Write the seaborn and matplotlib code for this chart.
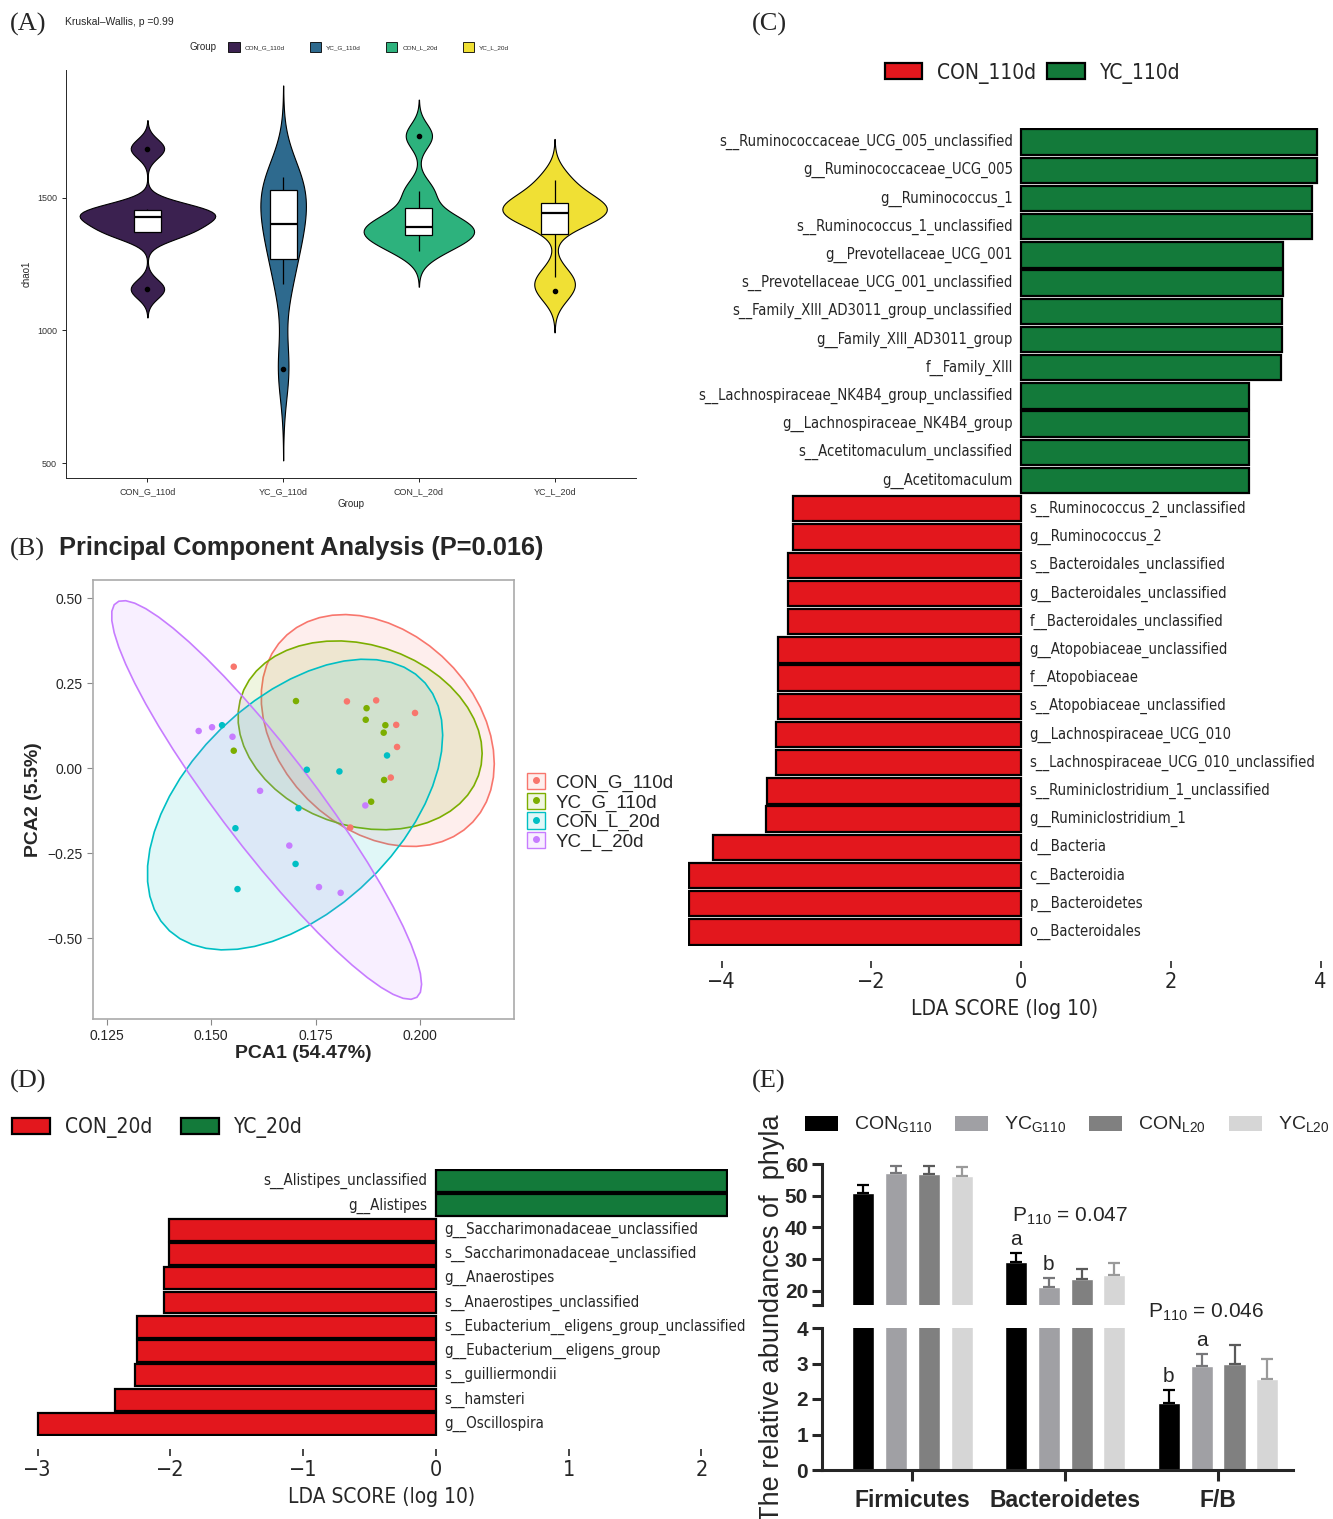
import numpy as np
import pandas as pd
import matplotlib as mpl
mpl.use('Agg')
import matplotlib.pyplot as plt
import seaborn as sns
from matplotlib.patches import Patch, Polygon, Rectangle
from matplotlib.lines import Line2D
from matplotlib.font_manager import FontProperties

W, H = 1333, 1519

# (A) chao1 richness per group
groups_a = ['CON_G_110d', 'YC_G_110d', 'CON_L_20d', 'YC_L_20d']
chao1_con_g = [1156, 1370, 1372, 1420, 1434, 1450, 1458, 1685]
chao1_yc_g = [856, 1175, 1300, 1380, 1420, 1525, 1540, 1577]
chao1_con_l = [1301, 1340, 1365, 1380, 1400, 1440, 1525, 1733]
chao1_yc_l = [1147, 1200, 1420, 1435, 1447, 1478, 1490, 1567]
colors_a = ['#3B2150', '#2E6A8E', '#2DB27D', '#F0E034']

# (B) PCA scores
pc1_con_g = [0.1554, 0.1825, 0.1895, 0.1988, 0.1943, 0.1945, 0.1930, 0.1833]
pc2_con_g = [0.298, 0.196, 0.199, 0.162, 0.127, 0.062, -0.028, -0.175]
pc1_yc_g = [0.1703, 0.1872, 0.1870, 0.1917, 0.1913, 0.1554, 0.1914, 0.1883]
pc2_yc_g = [0.197, 0.176, 0.142, 0.126, 0.104, 0.051, -0.035, -0.099]
pc1_con_l = [0.1526, 0.1921, 0.1729, 0.1807, 0.1709, 0.1558, 0.1702, 0.1563]
pc2_con_l = [0.126, 0.037, -0.005, -0.010, -0.118, -0.177, -0.282, -0.356]
pc1_yc_l = [0.1470, 0.1502, 0.1551, 0.1617, 0.1687, 0.1758, 0.1810, 0.1869]
pc2_yc_l = [0.109, 0.120, 0.092, -0.067, -0.228, -0.350, -0.367, -0.110]
colors_b = ['#F8766D', '#7CAE00', '#00BFC4', '#C77CFF']

# (C) LEfSe 110 d
taxa_c = ['s__Ruminococcaceae_UCG_005_unclassified', 'g__Ruminococcaceae_UCG_005',
          'g__Ruminococcus_1', 's__Ruminococcus_1_unclassified',
          'g__Prevotellaceae_UCG_001', 's__Prevotellaceae_UCG_001_unclassified',
          's__Family_XIII_AD3011_group_unclassified', 'g__Family_XIII_AD3011_group',
          'f__Family_XIII', 's__Lachnospiraceae_NK4B4_group_unclassified',
          'g__Lachnospiraceae_NK4B4_group', 's__Acetitomaculum_unclassified',
          'g__Acetitomaculum', 's__Ruminococcus_2_unclassified', 'g__Ruminococcus_2',
          's__Bacteroidales_unclassified', 'g__Bacteroidales_unclassified',
          'f__Bacteroidales_unclassified', 'g__Atopobiaceae_unclassified',
          'f__Atopobiaceae', 's__Atopobiaceae_unclassified',
          'g__Lachnospiraceae_UCG_010', 's__Lachnospiraceae_UCG_010_unclassified',
          's__Ruminiclostridium_1_unclassified', 'g__Ruminiclostridium_1',
          'd__Bacteria', 'c__Bacteroidia', 'p__Bacteroidetes', 'o__Bacteroidales']
lda_c = [3.95, 3.95, 3.89, 3.89, 3.50, 3.50, 3.48, 3.48, 3.47, 3.04, 3.04, 3.04, 3.04,
         -3.05, -3.05, -3.12, -3.12, -3.12, -3.25, -3.25, -3.25, -3.28, -3.28,
         -3.40, -3.41, -4.12, -4.44, -4.44, -4.44]
classes_c = ['CON_110d', 'YC_110d']

# (D) LEfSe 20 d
taxa_d = ['s__Alistipes_unclassified', 'g__Alistipes', 'g__Saccharimonadaceae_unclassified',
          's__Saccharimonadaceae_unclassified', 'g__Anaerostipes',
          's__Anaerostipes_unclassified', 's__Eubacterium__eligens_group_unclassified',
          'g__Eubacterium__eligens_group', 's__guilliermondii', 's__hamsteri',
          'g__Oscillospira']
lda_d = [2.19, 2.19, -2.01, -2.01, -2.05, -2.05, -2.25, -2.25, -2.27, -2.42, -3.00]
classes_d = ['CON_20d', 'YC_20d']
lefse_red, lefse_green = '#E3171D', '#137A3A'

# (E) phyla abundance
phyla = ['Firmicutes', 'Bacteroidetes', 'F/B']
groups_e = ['CON_G110', 'YC_G110', 'CON_L20', 'YC_L20']
firm_mean = [51.0, 57.2, 56.9, 56.2]
firm_err = [2.5, 2.2, 2.4, 2.8]
bact_mean = [29.0, 21.1, 23.6, 25.1]
bact_err = [2.8, 2.9, 3.4, 3.5]
fb_mean = [1.88, 2.92, 2.99, 2.57]
fb_err = [0.36, 0.34, 0.53, 0.56]
colors_e = ['#000000', '#a0a0a4', '#808080', '#d6d6d6']
err_colors_e = ['#000000', '#77777a', '#5a5a5a', '#9a9a9a']

sns.set_style('ticks')
plt.rcParams['font.family'] = ['Liberation Sans', 'DejaVu Sans']
lefse_font = dict(family='DejaVu Sans', stretch='condensed')


def px_axes(fig, l, t, r, b):
    return fig.add_axes([l / W, 1 - b / H, (r - l) / W, (b - t) / H])


def fig_text(fig, x, y, s, **kw):
    kw.setdefault('va', 'center')
    return fig.text(x / W, 1 - y / H, s, **kw)


def nrd0(kde):
    # R's default bandwidth, as used by ggplot's geom_violin
    x = np.asarray(kde.dataset).ravel()
    sd = x.std(ddof=1)
    iqr = np.subtract(*np.percentile(x, [75, 25]))
    bw = 0.9 * min(sd, iqr / 1.34) * len(x) ** -0.2
    return bw / sd


def plot_violins(fig):
    ax = px_axes(fig, 66, 70, 636, 478)
    vals = [chao1_con_g, chao1_yc_g, chao1_con_l, chao1_yc_l]
    df = pd.DataFrame({'Group': np.repeat(groups_a, [len(v) for v in vals]),
                       'chao1': np.concatenate(vals)})

    sns.violinplot(data=df, x='Group', y='chao1', hue='Group', order=groups_a,
                   hue_order=groups_a, palette=colors_a, saturation=1, inner=None,
                   linecolor='black', linewidth=0.8, bw_method=nrd0, cut=3,
                   density_norm='area', common_norm=True, width=1.0,
                   legend=False, ax=ax)
    sns.boxplot(data=df, x='Group', y='chao1', order=groups_a, color='white',
                saturation=1, width=0.2, linecolor='black', linewidth=0.9,
                showcaps=False, fliersize=3,
                flierprops=dict(marker='o', markerfacecolor='black',
                                markeredgecolor='black'),
                medianprops=dict(linewidth=1.6), ax=ax)

    ax.set_xlim(-0.6, 3.6)
    ax.set_ylim(444, 1981)
    ax.set_yticks([500, 1000, 1500])
    ax.tick_params(labelsize=6.5, length=3, width=0.6, colors='black',
                   labelcolor='#333333')
    ax.set_xlabel('Group', fontsize=7, labelpad=2)
    ax.set_ylabel('chao1', fontsize=7, labelpad=4)
    for side in ['top', 'right']:
        ax.spines[side].set_visible(False)
    for side in ['left', 'bottom']:
        ax.spines[side].set_linewidth(0.7)

    fig_text(fig, 10, 24, '(A)', family='Liberation Serif', fontsize=19)
    fig_text(fig, 65, 22, 'Kruskal\u2013Wallis, p =0.99', fontsize=7.5)
    fig_text(fig, 190, 47, 'Group', fontsize=7)
    handles = [Patch(facecolor=c, edgecolor='black', linewidth=0.6) for c in colors_a]
    fig.legend(handles, groups_a, ncol=4, loc='center left',
               bbox_to_anchor=(228 / W, 1 - 47 / H), fontsize=4.6, frameon=False,
               handlelength=1.8, handleheight=1.8, handletextpad=0.8,
               columnspacing=3.9, borderpad=0, borderaxespad=0)


def cov_trob(xy, nu=5, maxit=25, tol=0.01):
    # robust multivariate t estimate (MASS::cov.trob), used by stat_ellipse
    n, p = xy.shape
    loc = xy.mean(axis=0)
    w = np.ones(n)
    for _ in range(maxit):
        w0 = w
        X = xy - loc
        _, d, vt = np.linalg.svd(np.sqrt(w / w.sum())[:, None] * X,
                                 full_matrices=False)
        wX = X @ vt.T @ np.diag(1 / d)
        Q = (wX ** 2).sum(axis=1)
        w = (nu + p) / (nu + Q)
        loc = (w[:, None] * xy).sum(axis=0) / w.sum()
        if np.all(np.abs(w - w0) < tol):
            break
    cov = (np.sqrt(w)[:, None] * X).T @ (np.sqrt(w)[:, None] * X) / n
    return loc, cov


def add_ellipse(ax, x, y, color, f_quant=4.737):
    # 95% ellipse as drawn by ggplot's stat_ellipse (type 't', n = 8)
    xy = np.column_stack([x, y])
    center, shape = cov_trob(xy)
    chol = np.linalg.cholesky(shape).T
    radius = np.sqrt(2 * f_quant)
    theta = np.linspace(0, 2 * np.pi, 52)
    circle = np.column_stack([np.cos(theta), np.sin(theta)])
    pts = center + radius * circle @ chol
    ax.add_patch(Polygon(pts, closed=True,
                         facecolor=mpl.colors.to_rgba(color, 0.12),
                         edgecolor=color, linewidth=1.2, zorder=1))


def plot_pca(fig):
    ax = px_axes(fig, 93, 580, 514, 1019)
    pc1 = [pc1_con_g, pc1_yc_g, pc1_con_l, pc1_yc_l]
    pc2 = [pc2_con_g, pc2_yc_g, pc2_con_l, pc2_yc_l]
    df = pd.DataFrame({'PC1': np.concatenate(pc1), 'PC2': np.concatenate(pc2),
                       'Group': np.repeat(groups_a, [len(v) for v in pc1])})

    for x, y, c in zip(pc1, pc2, colors_b):
        add_ellipse(ax, x, y, c)
    sns.scatterplot(data=df, x='PC1', y='PC2', hue='Group', hue_order=groups_a,
                    palette=colors_b, s=22, linewidth=0, legend=False, zorder=3,
                    ax=ax)

    ax.set_xlim(0.1217, 0.2225)
    ax.set_ylim(-0.738, 0.553)
    ax.set_xticks([0.125, 0.15, 0.175, 0.2])
    ax.set_xticklabels(['0.125', '0.150', '0.175', '0.200'])
    ax.set_yticks([-0.5, -0.25, 0, 0.25, 0.5])
    ax.set_yticklabels(['\u22120.50', '\u22120.25', '0.00', '0.25', '0.50'])
    ax.tick_params(labelsize=10, length=4, width=0.8, color='#888888')
    for sp in ax.spines.values():
        sp.set_color('#aaaaaa')
        sp.set_linewidth(1.2)
    ax.set_xlabel('PCA1 (54.47%)', fontsize=14, fontweight='bold', labelpad=1)
    ax.set_ylabel('PCA2 (5.5%)', fontsize=14, fontweight='bold', labelpad=4)

    fig_text(fig, 10, 549, '(B)', family='Liberation Serif', fontsize=19)
    fig_text(fig, 59, 548, 'Principal Component Analysis (P=0.016)',
             fontsize=18.3, fontweight='bold')

    handles = [(Rectangle((0, 0), 1, 1, facecolor=mpl.colors.to_rgba(c, 0.12),
                          edgecolor=c, linewidth=1.0),
                Line2D([], [], marker='o', linestyle='none', color=c, markersize=4))
               for c in colors_b]
    fig.legend(handles, groups_a, loc='center left',
               bbox_to_anchor=(527 / W, 1 - 812 / H), fontsize=13.5, frameon=False,
               handlelength=0.95, handleheight=0.95, labelspacing=0.05,
               handletextpad=0.6, borderpad=0, borderaxespad=0)


def plot_lefse(fig, box, taxa, scores, classes, xlim, xticks, tick_pad,
               legend_anchor, legend_gap, label_size):
    ax = px_axes(fig, *box)
    ax.spines['bottom'].set_position(('outward', tick_pad))
    df = pd.DataFrame({'taxon': taxa, 'lda': scores,
                       'cls': [classes[1] if s > 0 else classes[0] for s in scores]})
    sns.barplot(data=df, x='lda', y='taxon', hue='cls', order=taxa,
                hue_order=classes, palette=[lefse_red, lefse_green], dodge=False,
                width=0.9, saturation=1, edgecolor='black', linewidth=1.6,
                legend=False, ax=ax)

    for i, (name, s) in enumerate(zip(taxa, scores)):
        ax.annotate(name, (0, i), xytext=(-6 if s > 0 else 6, 0),
                    textcoords='offset points', ha='right' if s > 0 else 'left',
                    va='center', fontsize=label_size, **lefse_font)

    ax.set_xlim(*xlim)
    ax.set_ylim(len(taxa) - 0.5, -0.5)
    ax.set_yticks([])
    ax.set_ylabel('')
    ax.set_xticks(xticks)
    ax.set_xticklabels(['\u2212%d' % -t if t < 0 else '%d' % t for t in xticks],
                       fontsize=15.5, **lefse_font)
    ax.tick_params(axis='x', length=5, width=1.2, pad=3)
    for side in ['left', 'right', 'top']:
        ax.spines[side].set_visible(False)
    ax.spines['bottom'].set_color('none')
    ax.set_xlabel('LDA SCORE (log 10)', fontsize=15, labelpad=5, **lefse_font)

    handles = [Patch(facecolor=lefse_red, edgecolor='black', linewidth=1.6),
               Patch(facecolor=lefse_green, edgecolor='black', linewidth=1.6)]
    fig.legend(handles, classes, ncol=2, loc='center left',
               bbox_to_anchor=legend_anchor, frameon=False,
               prop=FontProperties(size=15, **lefse_font), handlelength=1.8,
               handleheight=0.8, handletextpad=0.72, columnspacing=legend_gap,
               borderpad=0, borderaxespad=0)


def plot_phyla(fig):
    ax_top = px_axes(fig, 822, 1164, 1293, 1305)
    ax_bot = px_axes(fig, 822, 1328, 1293, 1470)
    means = [firm_mean, bact_mean, fb_mean]
    errs = [firm_err, bact_err, fb_err]
    df = pd.DataFrame({'phylum': np.repeat(phyla, len(groups_e)),
                       'group': groups_e * len(phyla),
                       'mean': np.concatenate(means), 'err': np.concatenate(errs)})
    df = df.set_index(['phylum', 'group'])

    for ax in (ax_top, ax_bot):
        sns.barplot(data=df.reset_index(), x='phylum', y='mean', hue='group',
                    order=phyla, hue_order=groups_e, palette=colors_e,
                    saturation=1, width=0.86, gap=0.33, errorbar=None,
                    legend=False, ax=ax)
        for cont, grp, ec in zip(ax.containers, groups_e, err_colors_e):
            for bar in cont:
                xc = bar.get_x() + bar.get_width() / 2
                phy = phyla[int(round(xc))]
                ax.errorbar(xc, bar.get_height(),
                            yerr=[[0], [df.loc[(phy, grp), 'err']]], fmt='none',
                            ecolor=ec, elinewidth=1.6, capsize=4, capthick=1.6)
        ax.set_xlim(-0.59, 2.49)
        ax.set_xlabel('')
        ax.set_ylabel('')
        ax.spines['right'].set_visible(False)
        ax.spines['top'].set_visible(False)
        ax.spines['left'].set_linewidth(2.2)
        ax.tick_params(axis='y', length=7, width=2.2, labelsize=15, pad=3)

    ax_top.set_ylim(15.5, 60)
    ax_top.set_yticks([20, 30, 40, 50, 60])
    ax_top.set_yticklabels(['20', '30', '40', '50', '60'], fontweight='bold')
    ax_top.set_yticks([15.5], minor=True)
    ax_top.tick_params(axis='y', which='minor', length=7, width=2.2)
    ax_top.spines['bottom'].set_visible(False)
    ax_top.set_xticks([])

    ax_bot.set_ylim(0, 4)
    ax_bot.set_yticks([0, 1, 2, 3, 4])
    ax_bot.set_yticklabels(['0', '1', '2', '3', '4'], fontweight='bold')
    ax_bot.spines['bottom'].set_linewidth(2.2)
    ax_bot.tick_params(axis='x', length=8, width=2.2, labelsize=16.5, pad=6)
    for lbl in ax_bot.get_xticklabels():
        lbl.set_fontweight('bold')

    # significance letters above the error bars
    letters = [(ax_top, 'Bacteroidetes', 'CON_G110', 'a'),
               (ax_top, 'Bacteroidetes', 'YC_G110', 'b'),
               (ax_bot, 'F/B', 'CON_G110', 'b'),
               (ax_bot, 'F/B', 'YC_G110', 'a')]
    for ax, phy, grp, s in letters:
        gi = groups_e.index(grp)
        bar = ax.containers[gi][0]
        for b in ax.containers[gi]:
            if phyla[int(round(b.get_x() + b.get_width() / 2))] == phy:
                bar = b
        top = df.loc[(phy, grp), 'mean'] + df.loc[(phy, grp), 'err']
        ax.annotate(s, (bar.get_x() + bar.get_width() / 2, top), xytext=(0, 3),
                    textcoords='offset points', ha='center', va='bottom',
                    fontsize=15)

    fig_text(fig, 1070, 1216, r'P$_{\mathregular{110}}$ = 0.047', fontsize=15,
             ha='center')
    fig_text(fig, 1206, 1312, r'P$_{\mathregular{110}}$ = 0.046', fontsize=15,
             ha='center')
    fig_text(fig, 772, 1318, 'The relative abundances of  phyla', fontsize=19.5,
             rotation=90, ha='center')
    fig_text(fig, 752, 1081, '(E)', family='Liberation Serif', fontsize=19)

    labels = [r'CON$_{\mathregular{G110}}$', r'YC$_{\mathregular{G110}}$',
              r'CON$_{\mathregular{L20}}$', r'YC$_{\mathregular{L20}}$']
    handles = [Patch(facecolor=c, edgecolor='none') for c in colors_e]
    fig.legend(handles, labels, ncol=4, loc='center left',
               bbox_to_anchor=(805 / W, 1 - 1125 / H), fontsize=14, frameon=False,
               handlelength=1.7, handleheight=0.8, handletextpad=0.8,
               columnspacing=1.2, borderpad=0, borderaxespad=0)


def main():
    fig = plt.figure(figsize=(W / 100, H / 100), dpi=100)

    plot_violins(fig)
    plot_pca(fig)

    plot_lefse(fig, (688, 128, 1322, 946), taxa_c, lda_c, classes_c,
               (-4.45, 4.02), [-4, -2, 0, 2, 4], 11, (885 / W, 1 - 73 / H), 0.5,
               10.6)
    fig_text(fig, 752, 24, '(C)', family='Liberation Serif', fontsize=19)

    plot_lefse(fig, (35, 1169, 728, 1436), taxa_d, lda_d, classes_d,
               (-3.02, 2.2), [-3, -2, -1, 0, 1, 2], 9, (12 / W, 1 - 1128 / H),
               1.4, 10.8)
    fig_text(fig, 10, 1081, '(D)', family='Liberation Serif', fontsize=19)

    plot_phyla(fig)

    fig.savefig('out.png', dpi=100)
    plt.close(fig)


if __name__ == '__main__':
    main()
